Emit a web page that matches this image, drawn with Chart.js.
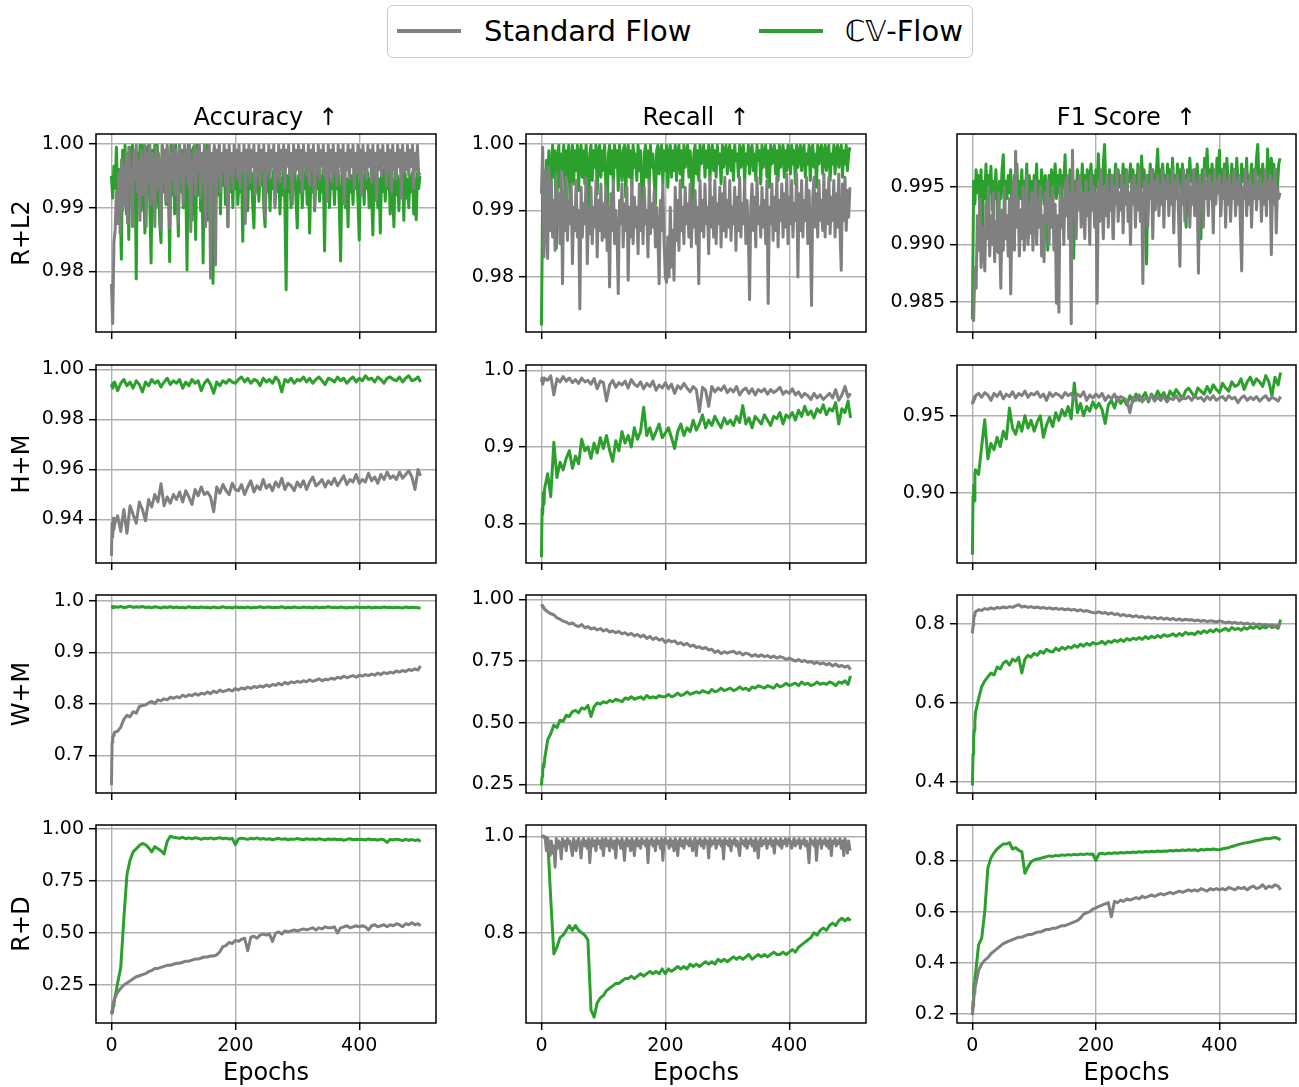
<!DOCTYPE html>
<html><head><meta charset="utf-8">
<script src="https://cdn.jsdelivr.net/npm/chart.js@4.4.1/dist/chart.umd.min.js"></script>
<style>
body{margin:0;background:#fff;width:1299px;height:1087px;position:relative;overflow:hidden;font-family:'DejaVu Sans',sans-serif;}
canvas{position:absolute;}
.t{position:absolute;white-space:pre;color:#000;font-family:'DejaVu Sans',sans-serif;line-height:1;transform:translate(-50%,-50%);}
.r{transform:translate(-50%,-50%) rotate(-90deg);}
.lg{position:absolute;white-space:pre;color:#000;font-family:'DejaVu Sans',sans-serif;font-size:29px;line-height:1;transform:translateY(-50%);}
.lg i{font-style:oblique;}
.ln{position:absolute;height:4px;}
</style></head><body>
<div style="position:absolute;left:387px;top:5px;width:586px;height:53px;box-sizing:border-box;border:1.5px solid #cccccc;border-radius:6px;background:#fff;"></div>
<script>
// ---------------- data ----------------
const METRICS = ['Accuracy  \u2191', 'Recall  \u2191', 'F1 Score  \u2191'];
const SETTINGS = ['R+L2', 'H+M', 'W+M', 'R+D'];
const SERIES = ['Standard Flow', '\u2102\uD835\uDD4D-Flow'];
const X_TICKS = [0, 200, 400];
// epoch grids: a coarse one (dense start, then every 5 epochs) and a fine one (every 2 epochs)
const EPOCHS = [0,1,2,3,4].concat(Array.from({length:99},(_,i)=>5+5*i)).concat([499]);
const EPOCHS_D = Array.from({length:250},(_,i)=>2*i);

const ACC_RL2_STD = [.978,.9718,.9845,.9865,.9925,.9875,.9955,.986,.9975,.9895,
.9965,.9905,.9985,.9875,.9995,.9935,.996,.987,.999,.9945,
.9998,.9925,.9975,.988,.999,.995,.992,.9998,.987,.9985,
.994,.9998,.9905,.9985,.9955,.987,.9995,.993,.9985,.996,
.9865,.9998,.994,.999,.991,.9998,.9955,.9868,.9985,.9945,
.9998,.992,.999,.996,.9875,.9998,.9945,.9985,.9905,.9998,
.995,.999,.9935,.9998,.9862,.9975,.995,.9998,.992,.999,
.996,.9998,.9915,.9985,.994,.9998,.987,.999,.9955,.9998,
.9789,.9985,.994,.9998,.981,.999,.995,.9998,.9925,.9985,
.996,.9998,.9935,.999,.987,.9998,.9955,.9985,.993,.9998,
.9965,.999,.9945,.9998,.993,.9985,.996,.9998,.9875,.999,
.9955,.9998,.994,.999,.9965,.9998,.992,.9985,.995,.9998,
.9935,.999,.996,.9998,.9885,.9985,.9955,.9998,.9945,.999,
.9965,.9998,.99,.9985,.995,.9998,.994,.999,.996,.9998,
.993,.999,.9965,.9998,.995,.9985,.9905,.9998,.9955,.999,
.996,.9998,.9945,.999,.9925,.9998,.9965,.9985,.995,.9998,
.9935,.999,.996,.9998,.99,.9985,.9955,.9998,.9945,.999,
.9965,.9998,.995,.9985,.991,.9998,.996,.999,.994,.9998,
.9955,.9985,.9935,.9998,.9965,.999,.995,.9998,.9905,.9985,
.996,.9998,.9945,.999,.9965,.9998,.993,.9985,.9955,.9998,
.995,.999,.992,.9998,.996,.9985,.9945,.9998,.9965,.999,
.994,.9998,.9955,.9985,.991,.9998,.996,.999,.995,.9998,
.9965,.9985,.9935,.9998,.9955,.999,.9925,.9998,.996,.9985,
.9945,.9998,.9965,.999,.9915,.9998,.9955,.9985,.996,.9998,
.995,.999,.9965,.9998,.993,.9985,.996,.9998,.995,.9955];
const ACC_RL2_CV = [.995,.9915,.9965,.993,.9995,.992,.996,.9905,.9819,.999,
.9925,.9998,.989,.996,.985,.9995,.9935,.9998,.9905,.9985,
.9788,.9985,.993,.9998,.9895,.9998,.994,.986,.9995,.992,
.9998,.9905,.9813,.999,.9935,.9998,.99,.9998,.9945,.9875,
.9845,.9998,.9925,.999,.9905,.9995,.9935,.9815,.9998,.992,
.9985,.989,.9998,.9935,.9855,.9998,.9925,.999,.99,.9985,
.994,.9802,.9998,.992,.999,.988,.9995,.993,.985,.9998,
.992,.9995,.9895,.9975,.9813,.999,.9925,.9998,.988,.9965,
.993,.9985,.9781,.9995,.9905,.9985,.992,.9998,.989,.9975,
.9935,.999,.9905,.9965,.987,.999,.9925,.9985,.99,.998,
.993,.9965,.9905,.9945,.9925,.996,.9847,.9975,.992,.995,
.9895,.9965,.993,.9955,.9905,.9868,.996,.9925,.9975,.991,
.995,.9935,.9965,.99,.987,.9955,.9925,.996,.9895,.9945,
.993,.996,.9905,.995,.9925,.9965,.989,.9945,.992,.996,
.9905,.9771,.995,.9925,.996,.99,.9945,.993,.9965,.991,
.9868,.995,.9925,.996,.99,.9945,.993,.9965,.9905,.995,
.986,.9955,.9925,.996,.9895,.9945,.993,.9965,.991,.995,
.9925,.996,.9832,.995,.992,.9965,.99,.9945,.993,.996,
.9905,.9955,.993,.996,.9895,.9816,.995,.9925,.9965,.99,
.9945,.987,.996,.9925,.995,.9905,.9965,.993,.9955,.991,
.9849,.996,.9925,.995,.9905,.9965,.993,.9955,.99,.9945,
.9925,.9857,.9955,.992,.996,.99,.9945,.986,.995,.9925,
.996,.991,.9945,.993,.9955,.989,.995,.9925,.987,.996,
.992,.995,.9895,.9945,.993,.996,.988,.9955,.9915,.9945,
.99,.995,.9925,.9955,.989,.9945,.9881,.9955,.993,.995];

const REC_RL2_STD = [.9925,.9995,.983,.996,.988,.9828,.9965,.987,.9945,.986,
.9915,.984,.9955,.988,.9925,.985,.996,.979,.993,.987,
.995,.9855,.9915,.988,.994,.982,.9905,.987,.9945,.986,
.99,.9752,.9935,.986,.991,.988,.995,.982,.9905,.9865,
.9935,.985,.9905,.9875,.9945,.983,.9915,.987,.994,.9855,
.991,.986,.9935,.984,.9905,.9785,.9925,.987,.9945,.985,
.99,.9865,.9775,.9915,.988,.994,.9845,.991,.987,.9935,
.9795,.9905,.986,.9945,.985,.992,.9875,.9905,.9835,.994,
.987,.9915,.985,.9935,.988,.99,.983,.9945,.9865,.991,
.9875,.993,.9845,.9905,.986,.979,.9915,.987,.994,.985,
.98,.9792,.986,.98,.9905,.9815,.987,.9795,.9935,.9855,
.9915,.984,.9945,.987,.9905,.985,.9935,.988,.991,.986,
.994,.9845,.9915,.9875,.993,.985,.9905,.979,.9945,.987,
.9915,.986,.994,.988,.9905,.9835,.995,.9875,.992,.986,
.9945,.985,.991,.988,.9935,.9845,.9925,.987,.995,.986,
.9915,.9875,.9945,.9855,.9905,.988,.9935,.984,.992,.987,
.995,.986,.991,.988,.9945,.985,.9915,.9865,.9766,.9905,
.994,.987,.992,.9845,.995,.988,.9905,.986,.9935,.9875,
.9915,.985,.9945,.976,.9905,.988,.994,.9855,.992,.987,
.995,.9845,.9915,.9885,.994,.986,.9925,.9875,.9955,.985,
.992,.988,.9945,.986,.991,.9885,.9955,.98,.9925,.987,
.9945,.986,.9915,.9885,.995,.985,.993,.987,.9757,.992,
.995,.9875,.9925,.986,.9945,.9885,.9915,.987,.9955,.986,
.993,.988,.995,.9865,.992,.9885,.9945,.986,.9925,.9875,
.9955,.987,.981,.994,.9885,.995,.987,.993,.989,.9935];
const REC_RL2_CV = [.9727,.993,.996,.9885,.9975,.9945,.999,.9872,.996,.9998,
.995,.999,.9843,.9975,.9998,.9935,.9985,.996,.9998,.9925,
.999,.9945,.9998,.9915,.9975,.9998,.994,.999,.996,.9998,
.993,.9985,.9998,.995,.999,.994,.9998,.996,.9876,.9985,
.9998,.9945,.999,.9965,.9998,.9925,.9985,.9998,.995,.999,
.996,.9998,.9935,.989,.9985,.9998,.9955,.999,.994,.9998,
.9965,.999,.993,.9998,.9975,.9945,.999,.9998,.992,.9985,
.9998,.995,.999,.9935,.9998,.9965,.9985,.9945,.9998,.996,
.999,.9925,.9888,.9985,.9998,.995,.999,.994,.9998,.9965,
.9985,.9945,.9909,.999,.9998,.9955,.9985,.9998,.994,.999,
.996,.9998,.9935,.9985,.9998,.995,.999,.996,.9998,.9945,
.9985,.9998,.9955,.999,.9935,.9998,.9965,.9985,.9998,.995,
.999,.996,.9893,.9985,.9998,.9955,.999,.9945,.9998,.997,
.9985,.9998,.995,.999,.9965,.9998,.9945,.9985,.9998,.996,
.999,.995,.9998,.997,.9985,.994,.9998,.9965,.999,.9998,
.9955,.9985,.9998,.996,.999,.9945,.9998,.9975,.9985,.995,
.9998,.9965,.999,.9998,.994,.9985,.997,.9998,.9955,.999,
.9998,.996,.9985,.9945,.9998,.9975,.999,.994,.9998,.9965,
.9985,.9998,.995,.999,.9935,.9998,.997,.9985,.9998,.9955,
.999,.9945,.9998,.9965,.9985,.9998,.995,.999,.996,.9998,
.9985,.9955,.9998,.997,.999,.994,.9998,.9965,.9985,.9998,
.996,.999,.9998,.995,.9985,.997,.9998,.9945,.999,.9998,
.9965,.9985,.9935,.9998,.997,.999,.9998,.9955,.9985,.9998,
.996,.999,.9998,.9945,.9985,.997,.9998,.9955,.999,.9998,
.9965,.9985,.9998,.995,.999,.997,.9998,.996,.9985,.9995];

const F1_RL2_STD = [.9835,.9834,.988,.9862,.9925,.9895,.994,.988,.9915,.99,
.9877,.9935,.9905,.995,.989,.9925,.99,.9945,.9885,.992,
.9895,.9945,.991,.9862,.993,.9895,.995,.9905,.9925,.989,
.994,.9857,.992,.9955,.9895,.9981,.9915,.994,.989,.993,
.9905,.995,.9895,.9925,.996,.99,.9935,.991,.9945,.9895,
.993,.9955,.99,.994,.9915,.995,.989,.9925,.9885,.9945,
.992,.9955,.99,.994,.9915,.995,.9895,.9935,.9849,.9925,
.9841,.995,.9915,.994,.99,.9955,.9925,.996,.9905,.9945,
.9831,.9982,.9925,.9945,.9905,.9955,.993,.996,.9915,.9945,
.9935,.9905,.9955,.9925,.9945,.99,.996,.993,.995,.9915,
.9945,.9849,.9955,.992,.9965,.9935,.9905,.995,.9925,.996,
.9915,.9945,.993,.996,.9905,.995,.9935,.9965,.992,.9945,
.993,.996,.991,.995,.9935,.9965,.992,.9945,.99,.9955,
.9935,.996,.9915,.995,.993,.9965,.992,.9945,.9866,.9955,
.993,.996,.9915,.995,.994,.9965,.9905,.9955,.993,.9945,
.996,.9925,.995,.9935,.9965,.9915,.9955,.994,.996,.9925,
.995,.9935,.9965,.991,.9955,.994,.996,.992,.9881,.995,
.9935,.9965,.992,.9955,.994,.996,.9915,.995,.9935,.9965,
.9925,.9955,.994,.9875,.996,.993,.995,.9915,.9965,.994,
.9955,.9925,.996,.994,.995,.991,.9965,.9935,.9955,.9945,
.996,.9925,.995,.994,.9965,.9915,.9955,.9935,.996,.992,
.995,.994,.9965,.9925,.9955,.9935,.996,.9915,.9877,.995,
.994,.9965,.9925,.9955,.9935,.996,.9915,.995,.994,.9965,
.993,.9955,.994,.996,.992,.995,.9935,.9965,.9925,.9955,
.994,.996,.9891,.9955,.9935,.9965,.991,.995,.994,.9945];
const F1_RL2_CV = [.9835,.9955,.9935,.9965,.9945,.996,.993,.9965,.9904,.9955,
.994,.997,.9925,.996,.9945,.9968,.993,.9955,.994,.9965,
.9935,.9893,.9955,.994,.9965,.9978,.993,.9955,.994,.996,
.9945,.9965,.993,.9905,.996,.9945,.997,.9935,.9955,.994,
.9965,.9935,.9955,.9945,.997,.9905,.996,.994,.9955,.9935,
.996,.9945,.997,.993,.9955,.994,.9965,.995,.9935,.996,
.9945,.9895,.996,.994,.9965,.9935,.9955,.997,.994,.996,
.9945,.9965,.9935,.996,.995,.9978,.994,.9955,.993,.9965,
.9945,.996,.9888,.9955,.994,.9965,.9935,.996,.995,.997,
.994,.996,.9945,.9965,.9935,.9955,.997,.9945,.996,.994,
.9965,.995,.9979,.9945,.996,.994,.997,.9987,.995,.996,
.9945,.9965,.994,.996,.9905,.9955,.997,.9945,.9965,.995,
.996,.9945,.997,.995,.9965,.994,.996,.9955,.997,.9945,
.9965,.995,.996,.9945,.997,.9955,.994,.9977,.995,.9965,
.9945,.9883,.996,.995,.997,.9945,.9965,.9955,.994,.9965,
.9983,.995,.9965,.9945,.997,.9955,.996,.994,.997,.995,
.9965,.9945,.9975,.995,.996,.994,.997,.9955,.9965,.9945,
.997,.995,.996,.9915,.9965,.9945,.9975,.9955,.996,.9945,
.9965,.995,.997,.9945,.996,.9905,.9965,.995,.9975,.996,
.9983,.995,.9965,.9945,.997,.9955,.996,.9945,.9975,.9955,
.9982,.9925,.9965,.995,.997,.9945,.9975,.9955,.996,.9945,
.997,.995,.9965,.9945,.9975,.9955,.996,.9945,.997,.9955,
.9965,.995,.9975,.9945,.996,.9955,.997,.9945,.9965,.9955,
.9975,.9987,.9955,.9965,.9945,.997,.9955,.996,.9945,.9983,
.996,.995,.9975,.9945,.997,.9955,.9965,.995,.997,.9975];

const ACC_HM_STD = [.9255,.9385,.933,.9405,.936,
.938,.9415,.9352,.944,.9345,.9455,.942,.9385,.947,.944,
.9395,.948,.945,.95,.947,.9543,.9455,.949,.9465,.95,
.948,.951,.947,.9515,.949,.946,.952,.9495,.953,.95,
.951,.949,.9431,.953,.9505,.954,.9515,.95,.9545,.952,
.9515,.954,.95,.953,.9555,.951,.9535,.952,.956,.9525,
.954,.9515,.955,.953,.9565,.952,.9545,.9535,.9515,.955,
.953,.9555,.952,.955,.957,.9535,.9545,.956,.953,.9555,
.954,.9565,.9535,.9555,.9575,.954,.956,.955,.958,.9545,
.956,.955,.9585,.9555,.957,.9545,.958,.956,.959,.9565,
.9575,.956,.959,.9565,.958,.9595,.957,.952,.96,.9575];
const ACC_HM_CV = [.993,.994,.9925,.9945,.9935,
.995,.9915,.9945,.996,.9935,.995,.9925,.9955,.994,.991,
.995,.9935,.996,.9945,.9955,.993,.995,.9965,.994,.9955,
.9945,.996,.9925,.995,.9935,.996,.9945,.9955,.9915,.9945,
.996,.994,.9905,.995,.9935,.9955,.9945,.996,.995,.9945,
.996,.997,.995,.9965,.9945,.996,.9955,.9935,.9965,.995,
.996,.9945,.997,.9955,.991,.996,.995,.9965,.9945,.996,
.9955,.997,.995,.9965,.9945,.996,.997,.9955,.994,.9965,
.996,.995,.997,.9955,.9965,.9945,.996,.997,.995,.9965,
.9955,.9975,.996,.9965,.995,.997,.996,.9945,.9965,.997,
.996,.9955,.997,.995,.9965,.9975,.9955,.996,.997,.995];

const REC_HM_STD = [.985,.99,.982,.988,.986,
.99,.987,.993,.968,.989,.985,.992,.986,.99,.984,
.988,.983,.99,.985,.987,.982,.9895,.976,.986,.984,
.96,.981,.987,.978,.984,.981,.986,.977,.988,.982,
.979,.985,.976,.983,.979,.986,.974,.981,.977,.984,
.976,.982,.97,.98,.976,.983,.977,.972,.979,.975,
.946,.978,.974,.953,.979,.972,.977,.974,.98,.971,
.976,.972,.979,.968,.974,.977,.97,.976,.968,.975,
.972,.976,.969,.975,.971,.974,.978,.969,.973,.97,
.976,.968,.972,.965,.97,.967,.962,.97,.964,.968,
.962,.966,.97,.964,.975,.961,.968,.979,.965,.97];
const REC_HM_CV = [.756,.82,.812,.84,.825,
.845,.865,.835,.906,.86,.88,.87,.885,.895,.872,
.888,.878,.91,.895,.9,.885,.905,.892,.912,.898,
.915,.896,.881,.908,.895,.92,.905,.915,.9,.925,
.91,.92,.952,.915,.925,.91,.92,.93,.912,.918,
.925,.912,.898,.92,.93,.915,.925,.92,.935,.922,
.93,.942,.925,.935,.928,.94,.932,.925,.938,.93,
.935,.928,.94,.932,.954,.93,.938,.925,.94,.935,
.93,.942,.935,.928,.94,.937,.945,.93,.942,.938,
.945,.935,.948,.94,.953,.942,.947,.938,.95,.945,
.955,.942,.95,.947,.958,.93,.95,.945,.96,.938];

const F1_HM_STD = [.9575,.96,.959,.962,.961,
.963,.9645,.962,.965,.9635,.96,.9645,.9625,.9655,.961,
.964,.9625,.9655,.9615,.9645,.963,.966,.962,.9645,.9635,
.9655,.962,.964,.96,.965,.9625,.9645,.9635,.9615,.965,
.963,.9645,.961,.964,.9625,.9655,.96,.9635,.9615,.964,
.962,.9645,.96,.963,.961,.964,.9595,.9625,.9615,.96,
.952,.962,.96,.9635,.959,.9615,.9605,.963,.9595,.962,
.96,.9625,.959,.9615,.9605,.963,.9595,.962,.961,.9625,
.96,.963,.961,.962,.9595,.9625,.9605,.963,.96,.9615,
.9625,.96,.963,.961,.962,.9585,.9615,.963,.96,.962,
.9605,.9625,.9595,.9615,.963,.96,.962,.961,.9595,.9625];
const F1_HM_CV = [.86,.898,.905,.895,.912,
.915,.912,.93,.9474,.922,.932,.928,.936,.93,.94,
.935,.955,.942,.938,.946,.94,.95,.942,.947,.94,
.946,.95,.936,.944,.949,.943,.952,.947,.954,.95,
.956,.948,.9713,.952,.958,.95,.956,.953,.959,.955,
.958,.954,.945,.957,.96,.955,.962,.958,.961,.957,
.963,.959,.964,.96,.962,.965,.959,.964,.961,.966,
.962,.965,.96,.966,.963,.967,.964,.961,.966,.968,
.965,.962,.968,.966,.964,.969,.965,.97,.967,.965,
.971,.968,.966,.972,.969,.97,.974,.967,.972,.975,
.97,.974,.972,.969,.976,.972,.963,.975,.97,.978];

const ACC_WM_STD = [.642,.725,.735,.74,.738,
.745,.747,.755,.77,.778,.775,.785,.782,.795,.797,
.798,.802,.805,.801,.808,.806,.81,.808,.813,.811,
.814,.812,.817,.814,.818,.816,.82,.817,.821,.819,
.823,.82,.825,.822,.827,.824,.826,.828,.825,.83,
.827,.831,.829,.833,.83,.834,.832,.835,.833,.837,
.834,.838,.836,.84,.837,.842,.839,.843,.841,.844,
.842,.845,.843,.847,.844,.846,.849,.845,.848,.847,
.85,.848,.852,.85,.854,.851,.853,.855,.852,.856,
.854,.857,.855,.858,.856,.86,.857,.861,.859,.862,
.86,.864,.862,.865,.863,.867,.865,.868,.866,.874];
const ACC_WM_CV = [.988,.989,.987,.9885,.9875,
.989,.988,.9895,.987,.9885,.99,.9875,.989,.988,.9895,
.9875,.9885,.987,.989,.988,.9865,.9885,.9875,.989,.987,
.9885,.987,.988,.9865,.989,.9875,.988,.987,.9885,.9875,
.988,.9865,.9885,.987,.9875,.989,.987,.988,.9865,.9885,
.9875,.988,.987,.9885,.9865,.988,.9875,.989,.987,.988,
.9885,.987,.988,.9875,.989,.9865,.988,.987,.9885,.9875,
.987,.9885,.9875,.988,.9865,.9885,.987,.988,.9875,.989,
.9875,.988,.987,.9885,.9875,.9865,.988,.987,.9885,.9875,
.988,.987,.9885,.9865,.988,.9875,.987,.9885,.9875,.988,
.987,.988,.9875,.9865,.9885,.987,.988,.9875,.987,.986];

const REC_WM_STD = [.98,.975,.97,.968,.965,
.96,.95,.942,.938,.925,.92,.912,.908,.9,.905,
.895,.89,.898,.885,.89,.88,.885,.876,.882,.872,
.878,.868,.872,.865,.87,.86,.865,.856,.862,.852,
.858,.848,.855,.842,.85,.838,.845,.835,.84,.825,
.835,.828,.832,.82,.825,.815,.822,.81,.815,.805,
.808,.8,.805,.795,.798,.785,.792,.78,.788,.782,
.787,.79,.78,.786,.775,.782,.778,.77,.776,.768,
.775,.768,.772,.764,.77,.762,.768,.764,.756,.762,
.756,.75,.756,.748,.752,.745,.748,.74,.745,.738,
.742,.735,.74,.73,.738,.728,.732,.725,.73,.715];
const REC_WM_CV = [.245,.28,.305,.33,.32,
.35,.43,.455,.49,.48,.51,.505,.53,.525,.545,
.55,.54,.56,.555,.57,.525,.565,.58,.575,.585,
.58,.59,.585,.595,.59,.585,.6,.595,.605,.595,
.6,.605,.595,.61,.6,.605,.6,.61,.605,.605,
.615,.605,.61,.62,.61,.615,.625,.615,.62,.625,
.62,.63,.625,.62,.635,.625,.63,.64,.63,.635,
.64,.63,.635,.645,.635,.64,.63,.645,.64,.65,
.645,.64,.65,.645,.64,.655,.645,.65,.66,.65,
.655,.66,.65,.665,.655,.66,.65,.655,.665,.655,
.66,.655,.665,.66,.65,.665,.66,.67,.655,.69];

const F1_WM_STD = [.775,.795,.81,.82,.825,
.83,.835,.833,.838,.836,.84,.837,.841,.839,.842,
.84,.843,.841,.845,.848,.842,.844,.841,.843,.84,
.842,.839,.841,.838,.84,.837,.839,.836,.838,.835,
.837,.834,.836,.832,.835,.831,.833,.83,.828,.827,
.83,.826,.828,.824,.827,.823,.825,.82,.823,.819,
.821,.817,.82,.816,.818,.814,.817,.813,.816,.812,
.815,.811,.814,.81,.813,.809,.812,.808,.811,.809,
.81,.807,.809,.806,.808,.805,.807,.806,.804,.807,
.805,.802,.804,.801,.803,.8,.802,.799,.801,.798,
.8,.797,.799,.796,.798,.795,.797,.794,.796,.795];
const F1_WM_CV = [.39,.47,.51,.53,.55,
.575,.61,.64,.655,.665,.675,.67,.69,.685,.7,
.705,.695,.71,.705,.715,.675,.71,.72,.715,.725,
.72,.73,.725,.735,.73,.728,.738,.732,.74,.735,
.742,.738,.745,.74,.748,.743,.75,.745,.752,.748,
.75,.755,.748,.756,.752,.758,.754,.76,.755,.762,
.758,.763,.76,.765,.76,.767,.762,.768,.764,.77,
.765,.772,.768,.77,.774,.768,.775,.77,.778,.773,
.776,.772,.78,.775,.782,.777,.784,.779,.786,.78,
.784,.788,.782,.79,.785,.788,.783,.79,.786,.792,
.788,.794,.787,.792,.789,.795,.79,.793,.788,.81];

const ACC_RD_STD = [.11,.13,.15,.165,.175,
.185,.215,.235,.25,.26,.27,.28,.29,.295,.3,
.305,.315,.32,.33,.33,.335,.34,.345,.345,.35,
.355,.355,.36,.365,.365,.37,.375,.375,.38,.385,
.385,.39,.39,.395,.41,.435,.44,.455,.45,.465,
.46,.47,.475,.415,.48,.485,.475,.49,.495,.49,
.495,.46,.5,.505,.495,.51,.505,.51,.515,.51,
.515,.52,.515,.52,.525,.515,.525,.52,.53,.525,
.525,.53,.5,.525,.53,.535,.525,.53,.535,.53,
.535,.53,.515,.535,.54,.53,.535,.54,.53,.54,
.535,.545,.54,.53,.545,.54,.55,.54,.545,.535];
const ACC_RD_CV = [.11,.12,.135,.15,.16,
.18,.26,.335,.57,.78,.85,.89,.905,.92,.93,
.925,.91,.89,.915,.905,.895,.88,.94,.965,.96,
.958,.955,.96,.953,.957,.952,.958,.955,.95,.956,
.953,.957,.952,.955,.958,.953,.956,.951,.955,.925,
.952,.956,.953,.95,.955,.952,.957,.951,.954,.95,
.953,.948,.952,.955,.95,.953,.948,.952,.95,.954,
.951,.948,.953,.95,.952,.949,.953,.95,.947,.952,
.949,.952,.948,.951,.945,.95,.953,.948,.951,.949,
.95,.947,.952,.948,.95,.946,.951,.948,.935,.95,
.947,.951,.948,.944,.95,.946,.949,.945,.948,.94];

const REC_RD_STD = [1,1,.999,.995,.97,.996,.985,.96,.99,.965,
.98,.936,.995,.975,.99,.985,.953,.995,.98,.99,
.97,.995,.985,.99,.975,.96,.995,.985,.97,.99,
.995,.98,.955,.99,.995,.98,.99,.975,.995,.945,
.985,.995,.98,.99,.97,.995,.985,.99,.975,.995,
.96,.99,.995,.98,.99,.97,.995,.985,.975,.99,
.955,.995,.985,.99,.975,.995,.98,.95,.99,.995,
.98,.99,.97,.995,.985,.96,.99,.995,.98,.99,
.975,.995,.985,.99,.98,.995,.945,.99,.985,.995,
.98,.99,.97,.995,.985,.99,.975,.995,.95,.99,
.995,.985,.99,.975,.995,.98,.99,.97,.995,.985,
.96,.99,.995,.98,.99,.975,.995,.985,.99,.98,
.995,.985,.97,.99,.995,.96,.99,.985,.995,.98,
.99,.975,.995,.985,.99,.955,.995,.98,.99,.985,
.995,.975,.99,.985,.995,.98,.99,.953,.995,.985,
.99,.98,.995,.97,.99,.985,.995,.98,.99,.975,
.96,.995,.985,.99,.98,.995,.975,.99,.985,.995,
.98,.99,.97,.995,.985,.955,.99,.995,.98,.99,
.985,.995,.975,.99,.985,.995,.98,.99,.965,.995,
.985,.99,.98,.995,.975,.99,.985,.995,.98,.99,
.995,.985,.975,.99,.995,.98,.99,.985,.995,.975,
.99,.985,.995,.98,.99,.975,.945,.995,.985,.99,
.98,.995,.95,.99,.985,.995,.975,.99,.985,.995,
.98,.99,.975,.995,.96,.99,.985,.995,.98,.99,
.985,.995,.975,.99,.96,.995,.985,.965,.99,.97];
const REC_RD_CV = [1,1,1,1,1,
.999,.995,.87,.756,.77,.79,.795,.805,.815,.805,
.815,.805,.8,.795,.785,.64,.625,.655,.665,.67,
.68,.685,.69,.695,.695,.7,.705,.705,.71,.705,
.71,.715,.71,.715,.72,.715,.72,.715,.725,.715,
.725,.72,.725,.73,.725,.73,.725,.735,.73,.735,
.73,.735,.74,.735,.74,.735,.745,.74,.745,.74,
.745,.75,.745,.75,.745,.75,.755,.745,.75,.755,
.75,.755,.75,.755,.76,.755,.755,.76,.755,.76,
.765,.76,.77,.775,.78,.785,.79,.8,.795,.805,
.81,.805,.815,.82,.815,.825,.83,.825,.83,.825];

const F1_RD_STD = [.195,.23,.26,.28,.295,
.31,.37,.395,.41,.42,.435,.445,.455,.465,.475,
.48,.485,.49,.495,.5,.5,.505,.51,.51,.515,
.52,.52,.525,.53,.53,.535,.535,.54,.545,.545,
.55,.555,.56,.565,.575,.59,.595,.6,.61,.615,
.62,.625,.63,.635,.58,.64,.635,.645,.64,.65,
.645,.65,.655,.65,.66,.655,.66,.665,.66,.665,
.67,.665,.67,.675,.67,.675,.68,.675,.68,.685,
.68,.685,.68,.69,.685,.68,.69,.685,.69,.685,
.69,.685,.695,.69,.685,.695,.69,.695,.685,.695,
.7,.69,.695,.705,.69,.7,.695,.705,.7,.685];
const F1_RD_CV = [.2,.25,.29,.32,.34,
.355,.47,.495,.6,.77,.81,.83,.845,.855,.865,
.865,.87,.845,.85,.84,.835,.75,.775,.795,.802,
.806,.808,.812,.815,.818,.816,.82,.818,.822,.82,
.823,.821,.824,.822,.825,.823,.826,.824,.825,.8,
.826,.828,.825,.829,.827,.83,.828,.831,.829,.832,
.83,.833,.831,.834,.832,.835,.833,.836,.834,.837,
.835,.837,.836,.839,.837,.84,.838,.841,.839,.842,
.84,.842,.838,.843,.841,.844,.842,.845,.843,.842,
.846,.848,.85,.855,.858,.862,.865,.868,.87,.872,
.875,.878,.88,.883,.886,.885,.888,.89,.886,.881];

const YT_ACC_RL2 = [0.98, 0.99, 1.00];
const YT_REC_RL2 = [0.98, 0.99, 1.00];
const YT_F1_RL2 = [0.985, 0.990, 0.995];
const YT_ACC_HM = [0.94, 0.96, 0.98, 1.00];
const YT_REC_HM = [0.8, 0.9, 1.0];
const YT_F1_HM = [0.90, 0.95];
const YT_ACC_WM = [0.7, 0.8, 0.9, 1.0];
const YT_REC_WM = [0.25, 0.50, 0.75, 1.00];
const YT_F1_WM = [0.4, 0.6, 0.8];
const YT_ACC_RD = [0.25, 0.50, 0.75, 1.00];
const YT_REC_RD = [0.8, 1.0];
const YT_F1_RD = [0.2, 0.4, 0.6, 0.8];

// ---------------- layout / style ----------------
const GRAY = '#808080', GREEN = '#2ca02c';
const COL_LEFT = [96, 526, 957], PANEL_W = [340, 340, 339];
const ROW_TOP = [134, 365, 595, 825], PANEL_H = 198;
const YW = 96, PT = 20, PR = 10, XH = 20, XH_BOTTOM = 65;
const X_MIN = -24.95, X_MAX = 523.95;

// [std values, std epochs, cv values, cv epochs, y min, y max, y ticks, decimals]
const PANELS = [
  [[ACC_RL2_STD, EPOCHS_D, ACC_RL2_CV, EPOCHS_D, 0.97046, 1.00157, YT_ACC_RL2, 2],
   [REC_RL2_STD, EPOCHS_D, REC_RL2_CV, EPOCHS_D, 0.97173, 1.0015, YT_REC_RL2, 2],
   [F1_RL2_STD, EPOCHS_D, F1_RL2_CV, EPOCHS_D, 0.98239, 0.99961, YT_F1_RL2, 3]],
  [[ACC_HM_STD, EPOCHS, ACC_HM_CV, EPOCHS, 0.9226, 1.0018, YT_ACC_HM, 2],
   [REC_HM_STD, EPOCHS, REC_HM_CV, EPOCHS, 0.7483, 1.0071, YT_REC_HM, 1],
   [F1_HM_STD, EPOCHS, F1_HM_CV, EPOCHS, 0.8546, 0.9829, YT_F1_HM, 2]],
  [[ACC_WM_STD, EPOCHS, ACC_WM_CV, EPOCHS, 0.627, 1.0117, YT_ACC_WM, 1],
   [REC_WM_STD, EPOCHS, REC_WM_CV, EPOCHS, 0.2145, 1.018, YT_REC_WM, 2],
   [F1_WM_STD, EPOCHS, F1_WM_CV, EPOCHS, 0.3712, 0.8724, YT_F1_WM, 1]],
  [[ACC_RD_STD, EPOCHS, ACC_RD_CV, EPOCHS, 0.068, 1.019, YT_ACC_RD, 2],
   [REC_RD_STD, EPOCHS_D, REC_RD_CV, EPOCHS, 0.613, 1.0233, YT_REC_RD, 1],
   [F1_RD_STD, EPOCHS, F1_RD_CV, EPOCHS, 0.164, 0.9389, YT_F1_RD, 1]]
];

Chart.defaults.font.family = "'DejaVu Sans', sans-serif";
Chart.defaults.color = '#000';

const framePlugin = {
  id: 'frame',
  afterDatasetsDraw(chart) {
    const {ctx, chartArea: a} = chart;
    ctx.save();
    ctx.strokeStyle = '#000';
    ctx.lineWidth = 1.5;
    ctx.strokeRect(a.left, a.top, a.right - a.left, a.bottom - a.top);
    ctx.restore();
  }
};

function addText(txt, x, y, size, cls) {
  const d = document.createElement('div');
  d.className = 't' + (cls ? ' ' + cls : '');
  d.textContent = txt;
  d.style.left = x + 'px'; d.style.top = y + 'px'; d.style.fontSize = size + 'px';
  document.body.appendChild(d);
}

function makeDataset(label, values, epochs, color) {
  return {
    label, data: epochs.map((e, i) => ({x: e, y: values[i]})),
    borderColor: color, backgroundColor: color, borderWidth: 3,
    pointRadius: 0, tension: 0, fill: false,
    borderJoinStyle: 'round', borderCapStyle: 'butt'
  };
}

function makeChart(r, c) {
  const [std, stdE, cv, cvE, yMin, yMax, yTicks, dec] = PANELS[r][c];
  const isBottom = r === 3;
  const xh = isBottom ? XH_BOTTOM : XH;
  const w = YW + PANEL_W[c] + PR, h = PT + PANEL_H + xh;
  const canvas = document.createElement('canvas');
  canvas.width = w; canvas.height = h;
  canvas.style.left = (COL_LEFT[c] - YW) + 'px';
  canvas.style.top = (ROW_TOP[r] - PT) + 'px';
  canvas.style.width = w + 'px'; canvas.style.height = h + 'px';
  document.body.appendChild(canvas);
  const gridOpts = {color: '#b0b0b0', lineWidth: 1.4, drawTicks: true, tickLength: 7, tickColor: '#000', tickWidth: 1.5};
  new Chart(canvas, {
    type: 'line',
    data: {datasets: [makeDataset(SERIES[0], std, stdE, GRAY), makeDataset(SERIES[1], cv, cvE, GREEN)]},
    options: {
      responsive: false, animation: false, devicePixelRatio: 1,
      layout: {padding: {top: PT, right: PR, left: 0, bottom: 0}},
      plugins: {legend: {display: false}, tooltip: {enabled: false}},
      scales: {
        x: {
          type: 'linear', min: X_MIN, max: X_MAX,
          afterBuildTicks: s => { s.ticks = X_TICKS.map(v => ({value: v})); },
          afterFit: s => { s.height = xh; },
          grid: gridOpts, border: {display: false},
          ticks: {display: isBottom, font: {size: 19}, color: '#000', padding: 5, maxRotation: 0, autoSkip: false,
                  callback: v => String(v)},
          title: {display: isBottom, text: 'Epochs', font: {size: 24}, color: '#000', padding: 0}
        },
        y: {
          type: 'linear', min: yMin, max: yMax,
          afterBuildTicks: s => { s.ticks = yTicks.map(v => ({value: v})); },
          afterFit: s => { s.width = YW; },
          grid: gridOpts, border: {display: false},
          ticks: {font: {size: 19}, color: '#000', padding: 5, callback: v => Number(v).toFixed(dec)}
        }
      }
    },
    plugins: [framePlugin]
  });
}

for (let r = 0; r < 4; r++) for (let c = 0; c < 3; c++) makeChart(r, c);

for (let c = 0; c < 3; c++) addText(METRICS[c], COL_LEFT[c] + PANEL_W[c] / 2, 117, 24);
for (let r = 0; r < 4; r++) addText(SETTINGS[r], 21, ROW_TOP[r] + PANEL_H / 2, 24, 'r');

// legend
function legendItem(x0, color, text, tx) {
  const l = document.createElement('div');
  l.className = 'ln'; l.style.left = x0 + 'px'; l.style.top = '29px'; l.style.width = '64px'; l.style.background = color;
  document.body.appendChild(l);
  const t = document.createElement('div');
  t.className = 'lg'; t.style.left = tx + 'px'; t.style.top = '31px';
  const cut = text.indexOf('-');
  if (cut > 0) {
    const i = document.createElement('i');
    i.textContent = text.slice(0, cut);
    t.appendChild(i);
    t.appendChild(document.createTextNode(text.slice(cut)));
  } else {
    t.textContent = text;
  }
  document.body.appendChild(t);
}
legendItem(397, GRAY, SERIES[0], 484);
legendItem(759, GREEN, SERIES[1], 845);
</script>
</body></html>
